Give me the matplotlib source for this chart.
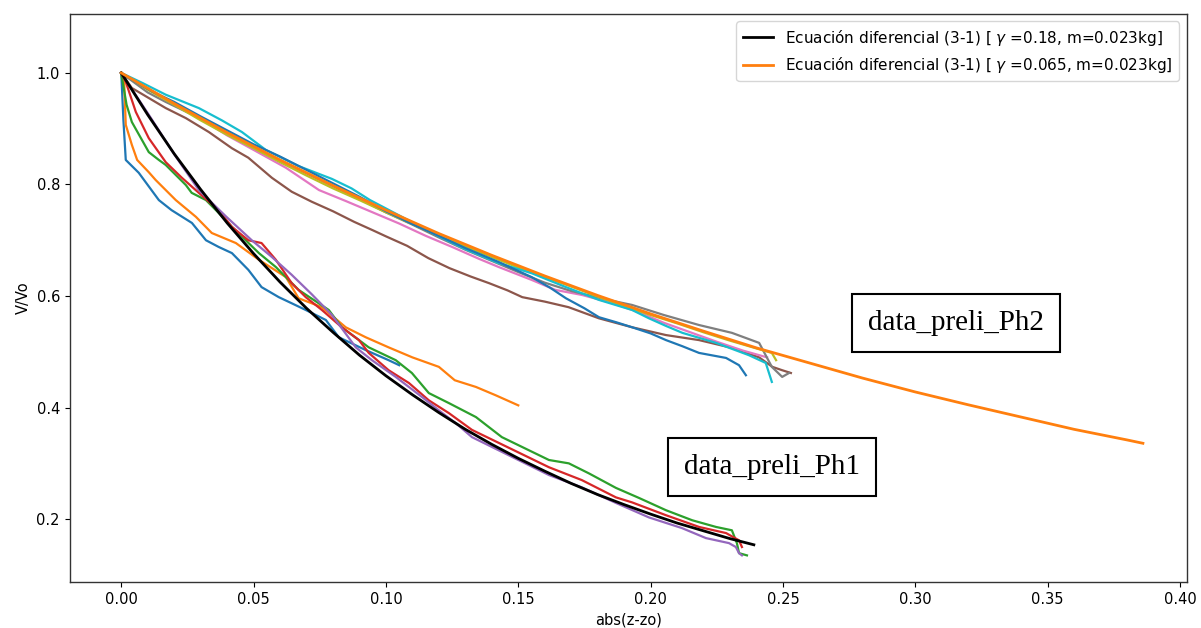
import matplotlib
matplotlib.use("Agg")
import matplotlib.pyplot as plt

# ---------------- data ----------------
# preliminary data, phase 1
ph1_blue_x = [0, 0.0008, 0.0017, 0.0066, 0.0142, 0.019, 0.0267, 0.032, 0.0368, 0.0418, 0.048, 0.053,
              0.0595, 0.0644, 0.0697, 0.0773, 0.0822, 0.0924, 0.101, 0.105]
ph1_blue_y = [1.0, 0.916, 0.844, 0.821, 0.772, 0.754, 0.731, 0.70, 0.688, 0.677, 0.647, 0.616,
              0.598, 0.587, 0.575, 0.557, 0.526, 0.503, 0.485, 0.476]

ph1_orange_x = [0, 0.001, 0.0017, 0.004, 0.006, 0.0104, 0.013, 0.0206, 0.0282, 0.0342, 0.0433, 0.052,
                0.0622, 0.067, 0.0758, 0.0848, 0.0924, 0.101, 0.110, 0.120, 0.126, 0.134, 0.1415, 0.150]
ph1_orange_y = [1.0, 0.996, 0.907, 0.871, 0.844, 0.822, 0.808, 0.772, 0.742, 0.713, 0.695, 0.665,
                0.634, 0.596, 0.580, 0.544, 0.526, 0.508, 0.490, 0.473, 0.449, 0.437, 0.422, 0.404]

ph1_green_x = [0, 0.0002, 0.002, 0.004, 0.0104, 0.0142, 0.0168, 0.0244, 0.0266, 0.032, 0.0368, 0.0418,
               0.047, 0.052, 0.0584, 0.067, 0.0784, 0.0833, 0.0935, 0.1037, 0.1098, 0.1162, 0.1238,
               0.134, 0.1438, 0.1616, 0.1691, 0.1767, 0.1869, 0.1956, 0.2058, 0.2157, 0.2247, 0.2307,
               0.2326, 0.2334, 0.2364]
ph1_green_y = [1.0, 0.993, 0.943, 0.912, 0.858, 0.844, 0.835, 0.799, 0.785, 0.772, 0.749, 0.724,
               0.70, 0.677, 0.652, 0.611, 0.575, 0.544, 0.508, 0.485, 0.462, 0.426, 0.408,
               0.383, 0.347, 0.306, 0.30, 0.282, 0.256, 0.238, 0.216, 0.198, 0.186, 0.18,
               0.157, 0.139, 0.135]

ph1_red_x = [0, 0.0017, 0.0055, 0.0104, 0.0168, 0.0229, 0.0293, 0.0368, 0.0418, 0.048, 0.053, 0.0584,
             0.0644, 0.0697, 0.0758, 0.0833, 0.0898, 0.0935, 0.101, 0.1087, 0.1162, 0.1238, 0.1325,
             0.1616, 0.174, 0.1869, 0.193, 0.2058, 0.2183, 0.2285, 0.2334, 0.2345]
ph1_red_y = [1.0, 0.984, 0.930, 0.883, 0.840, 0.812, 0.785, 0.754, 0.724, 0.70, 0.695, 0.665,
             0.623, 0.598, 0.575, 0.544, 0.521, 0.498, 0.467, 0.444, 0.413, 0.390, 0.360,
             0.293, 0.270, 0.239, 0.230, 0.207, 0.186, 0.175, 0.162, 0.150]

ph1_purple_x = [0, 0.003, 0.0104, 0.0206, 0.0293, 0.0395, 0.0493, 0.0569, 0.0644, 0.072, 0.0796, 0.0886,
                0.0947, 0.1037, 0.1136, 0.12, 0.1264, 0.1325, 0.1616, 0.174, 0.1869, 0.1994, 0.2118,
                0.2209, 0.2296, 0.2322, 0.2334, 0.2345]
ph1_purple_y = [1.0, 0.978, 0.925, 0.850, 0.790, 0.743, 0.700, 0.670, 0.638, 0.603, 0.566, 0.508,
                0.485, 0.455, 0.419, 0.395, 0.372, 0.347, 0.279, 0.257, 0.229, 0.203, 0.184,
                0.166, 0.157, 0.150, 0.139, 0.135]

# preliminary data, phase 2
ph2_brown_x = [0, 0.004, 0.0104, 0.0168, 0.0244, 0.0331, 0.0418, 0.048, 0.0569, 0.0644, 0.072, 0.080,
               0.088, 0.095, 0.100, 0.108, 0.116, 0.124, 0.132, 0.139, 0.146, 0.1515, 0.160, 0.169,
               0.1805, 0.193, 0.2058, 0.2183, 0.2307, 0.241, 0.246, 0.2497, 0.253]
ph2_brown_y = [1.0, 0.973, 0.955, 0.937, 0.919, 0.894, 0.865, 0.848, 0.812, 0.787, 0.769, 0.752,
               0.733, 0.718, 0.707, 0.690, 0.668, 0.650, 0.635, 0.623, 0.610, 0.598, 0.590, 0.580,
               0.560, 0.544, 0.530, 0.521, 0.507, 0.490, 0.473, 0.467, 0.462]

ph2_pink_x = [0, 0.01, 0.02, 0.03, 0.04, 0.05, 0.0622, 0.0747, 0.085, 0.095, 0.105, 0.115, 0.125,
              0.135, 0.1426, 0.155, 0.164, 0.174, 0.185, 0.195, 0.205, 0.215, 0.225, 0.235, 0.244]
ph2_pink_y = [1.0, 0.972, 0.945, 0.918, 0.888, 0.862, 0.830, 0.790, 0.770, 0.750, 0.730, 0.708, 0.688,
              0.667, 0.652, 0.629, 0.611, 0.602, 0.588, 0.572, 0.552, 0.535, 0.518, 0.502, 0.490]

ph2_gray_x = [0, 0.01, 0.0168, 0.03, 0.04, 0.05, 0.06, 0.07, 0.08, 0.09, 0.1, 0.11, 0.12, 0.13, 0.14,
              0.15, 0.16, 0.17, 0.184, 0.193, 0.205, 0.2183, 0.2307, 0.241, 0.2458, 0.2497, 0.2523]
ph2_gray_y = [1.0, 0.965, 0.948, 0.918, 0.893, 0.868, 0.843, 0.82, 0.797, 0.774, 0.75, 0.728, 0.705,
              0.683, 0.663, 0.643, 0.624, 0.609, 0.593, 0.584, 0.566, 0.548, 0.534, 0.516, 0.473,
              0.455, 0.462]

ph2_olive_x = [0, 0.01, 0.02, 0.03, 0.04, 0.05, 0.06, 0.07, 0.08, 0.09, 0.1, 0.11, 0.12, 0.13, 0.14,
               0.15, 0.16, 0.17, 0.18, 0.19, 0.2, 0.21, 0.22, 0.23, 0.24, 0.2458, 0.2474]
ph2_olive_y = [1.0, 0.97, 0.943, 0.915, 0.889, 0.865, 0.84, 0.816, 0.793, 0.772, 0.75, 0.729, 0.708,
               0.689, 0.670, 0.651, 0.634, 0.617, 0.599, 0.582, 0.566, 0.551, 0.535, 0.520, 0.506,
               0.498, 0.485]

ph2_cyan_x = [0, 0.008, 0.0168, 0.0293, 0.038, 0.0456, 0.0546, 0.067, 0.0796, 0.087, 0.094, 0.1, 0.11,
              0.12, 0.13, 0.1426, 0.155, 0.168, 0.1805, 0.193, 0.1994, 0.206, 0.212, 0.2247, 0.2371,
              0.2435, 0.2458]
ph2_cyan_y = [1.0, 0.982, 0.961, 0.937, 0.915, 0.894, 0.862, 0.833, 0.810, 0.793, 0.772, 0.757, 0.732,
              0.707, 0.684, 0.659, 0.641, 0.616, 0.593, 0.575, 0.560, 0.546, 0.534, 0.516, 0.494,
              0.480, 0.446]

ph2_blue_x = [0, 0.005, 0.012, 0.02, 0.03, 0.04, 0.05, 0.06, 0.07, 0.08, 0.09, 0.10, 0.11, 0.12, 0.13,
              0.1426, 0.155, 0.162, 0.168, 0.175, 0.1805, 0.187, 0.193, 0.2, 0.2058, 0.212, 0.2183,
              0.2285, 0.2334, 0.236]
ph2_blue_y = [1.0, 0.985, 0.966, 0.948, 0.922, 0.897, 0.872, 0.85, 0.826, 0.802, 0.778, 0.752, 0.729,
              0.708, 0.686, 0.661, 0.634, 0.615, 0.596, 0.578, 0.562, 0.553, 0.544, 0.533, 0.521,
              0.510, 0.498, 0.489, 0.476, 0.458]

# model curves, eq. (3-1)
model1_x = [0, 0.01, 0.02, 0.03, 0.04, 0.05, 0.06, 0.07, 0.08, 0.09, 0.10, 0.11, 0.12, 0.13, 0.14,
            0.15, 0.16, 0.17, 0.18, 0.19, 0.20, 0.21, 0.22, 0.23, 0.239]
model1_y = [1.0, 0.925, 0.855, 0.791, 0.731, 0.676, 0.625, 0.578, 0.535, 0.494, 0.457, 0.423, 0.391,
            0.361, 0.334, 0.309, 0.286, 0.264, 0.244, 0.226, 0.209, 0.193, 0.179, 0.165, 0.154]

model2_x = [0, 0.02, 0.04, 0.06, 0.08, 0.10, 0.12, 0.14, 0.16, 0.18, 0.20, 0.22, 0.24, 0.26, 0.28,
            0.30, 0.32, 0.34, 0.36, 0.38, 0.386]
model2_y = [1.0, 0.945, 0.893, 0.844, 0.798, 0.754, 0.712, 0.673, 0.636, 0.601, 0.568, 0.537, 0.507,
            0.480, 0.453, 0.428, 0.405, 0.383, 0.361, 0.342, 0.336]

ph1 = [(ph1_blue_x, ph1_blue_y, 'C0'), (ph1_orange_x, ph1_orange_y, 'C1'),
       (ph1_green_x, ph1_green_y, 'C2'), (ph1_red_x, ph1_red_y, 'C3'),
       (ph1_purple_x, ph1_purple_y, 'C4')]
ph2 = [(ph2_brown_x, ph2_brown_y, 'C5'), (ph2_pink_x, ph2_pink_y, 'C6'),
       (ph2_gray_x, ph2_gray_y, 'C7'), (ph2_olive_x, ph2_olive_y, 'C8'),
       (ph2_cyan_x, ph2_cyan_y, 'C9'), (ph2_blue_x, ph2_blue_y, 'C0')]

# ---------------- plot ----------------
plt.rcParams['font.size'] = 10.5
fig = plt.figure(figsize=(12.01, 6.28), dpi=100)
ax = fig.add_axes([0.058, 0.073, 0.930, 0.905])

for x, y, c in ph1 + ph2:
    ax.plot(x, y, color=c, linewidth=1.6)

ax.plot(model1_x, model1_y, color='black', linewidth=2.0,
        label=r'Ecuación diferencial (3-1) [ $\gamma$ =0.18, m=0.023kg]')
ax.plot(model2_x, model2_y, color='#ff7f0e', linewidth=2.0,
        label=r'Ecuación diferencial (3-1) [ $\gamma$ =0.065, m=0.023kg]')

ax.set_xlim(-0.0195, 0.4025)
ax.set_ylim(0.087, 1.106)
ax.set_xticks([0.0, 0.05, 0.10, 0.15, 0.20, 0.25, 0.30, 0.35, 0.40])
ax.set_yticks([0.2, 0.4, 0.6, 0.8, 1.0])
ax.set_xlabel('abs(z-zo)')
ax.set_ylabel('V/Vo')
for s in ax.spines.values():
    s.set_color('#333333')
    s.set_linewidth(1.0)
ax.legend(loc='upper right', fontsize=11)

box = dict(boxstyle='square,pad=0.55', facecolor='white', edgecolor='black', linewidth=1.5)
ax.text(0.3154, 0.5515, 'data_preli_Ph2', family='Liberation Serif', fontsize=21,
        ha='center', va='center', bbox=box)
ax.text(0.2458, 0.293, 'data_preli_Ph1', family='Liberation Serif', fontsize=21,
        ha='center', va='center', bbox=box)

fig.savefig('out.png', dpi=100)
